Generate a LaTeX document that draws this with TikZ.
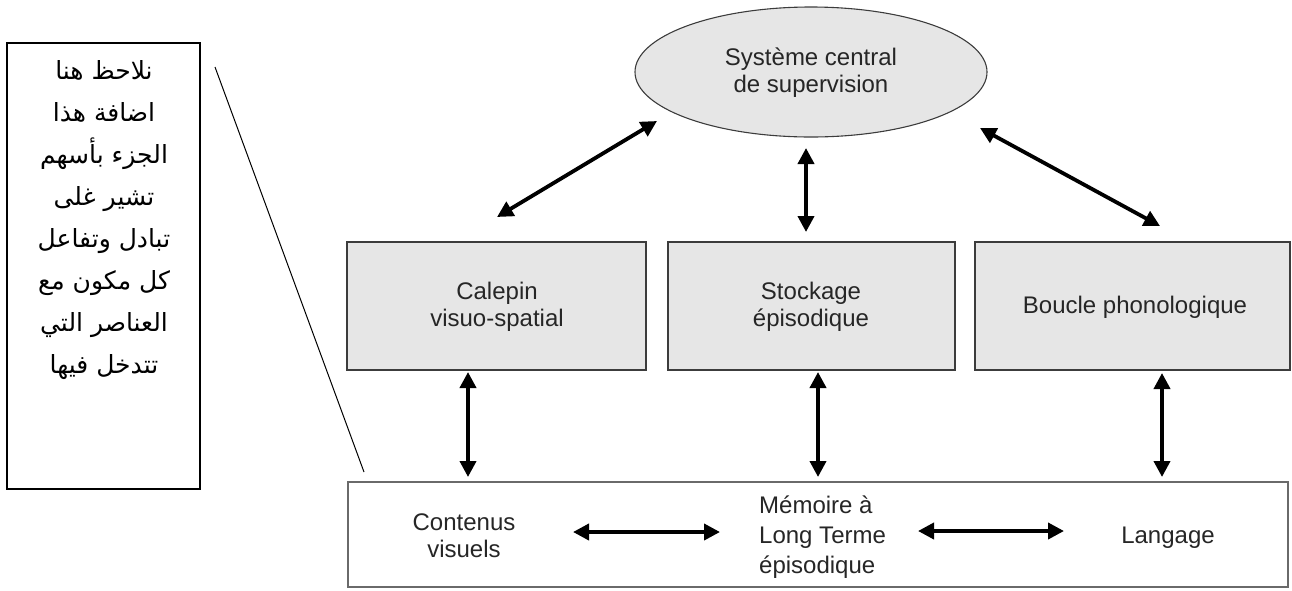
\documentclass[tikz,border=0pt]{standalone}
\usepackage{fontspec}
\setmainfont{Liberation Sans}
\newfontfamily\arabicfont[Script=Arabic]{DejaVu Sans}
\TeXXeTstate=1
\usetikzlibrary{shapes.geometric,arrows.meta}

\definecolor{boxfill}{HTML}{E6E6E6}
\definecolor{boxline}{HTML}{3C3C3C}
\definecolor{bandline}{HTML}{6A6A6A}

\tikzset{
  lbl/.style={font=\fontsize{24}{27}\selectfont, align=center, inner sep=0pt, text=black!85},
  component/.style={draw=boxline, line width=1.5pt, fill=boxfill, inner sep=0pt,
    minimum height=128pt},
  supervisor/.style={ellipse, draw=boxline, line width=1.1pt, fill=boxfill,
    minimum width=352pt, minimum height=130pt, inner sep=0pt},
  band/.style={draw=bandline, line width=2pt, fill=white, minimum width=940pt,
    minimum height=105pt, inner sep=0pt},
  link/.style={line width=3.8pt, {Triangle[length=16pt,width=16pt]}-{Triangle[length=16pt,width=16pt]}},
  notebox/.style={draw=black, line width=1.3pt, minimum width=193pt, minimum height=446pt, inner sep=0pt},
  notetext/.style={font=\arabicfont\fontsize{25}{42}\selectfont, align=center, inner sep=0pt}
}

\begin{document}
\begin{tikzpicture}[x=1pt,y=-1pt]
\useasboundingbox (0,0) rectangle (1292,590);

% central executive
\node[supervisor] (sup) at (811,72) {};
\node[lbl] (suptext) at (811,73) {Système central\\de supervision};

% three slave components
\node[component, minimum width=299pt] (vs) at (496.5,306) {};
\node[lbl] (vstext) at (497,307) {Calepin\\visuo-spatial};
\node[component, minimum width=287pt] (ep) at (811.5,306) {};
\node[lbl] (eptext) at (811,307) {Stockage\\épisodique};
\node[component, minimum width=315pt] (ph) at (1132.5,306) {};
\node[lbl] (phtext) at (1135,307) {Boucle phonologique};

% long-term memory band
\node[band] (ltm) at (818,534.5) {};
\node[lbl] (cv) at (464,536) {Contenus\\visuels};
\node[lbl, align=left, anchor=west, font=\fontsize{24}{30}\selectfont] (mlt) at (759,537) {Mémoire à\\Long Terme\\épisodique};
\node[lbl] (lang) at (1168,538) {Langage};

% note box
\node[notebox] (note) at (103.5,266) {};
\node[notetext, anchor=north] (notetxt) at (104,60) {%
\beginR نلاحظ هنا\endR\\
\beginR اضافة هذا\endR\\
\beginR الجزء بأسهم\endR\\
\beginR تشير غلى\endR\\
\beginR تبادل وتفاعل\endR\\
\beginR كل مكون مع\endR\\
\beginR العناصر التي\endR\\
\beginR تتدخل فيها\endR};

% arrow end points
\coordinate (s1) at (657,121);
\coordinate (v1) at (497,217);
\coordinate (s2) at (806,148);
\coordinate (e2) at (806,232);
\coordinate (s3) at (980,128);
\coordinate (p3) at (1160,226);
\coordinate (v4) at (468,372);
\coordinate (l4) at (468,477);
\coordinate (e5) at (818,372);
\coordinate (l5) at (818,477);
\coordinate (p6) at (1162,373);
\coordinate (l6) at (1162,477);
\coordinate (h1a) at (573,532);
\coordinate (h1b) at (720,532);
\coordinate (h2a) at (918,531);
\coordinate (h2b) at (1064,531);
\coordinate (n1) at (215,67);
\coordinate (n2) at (364,472);

\draw[link] (v1) -- (s1);
\draw[link] (e2) -- (s2);
\draw[link] (s3) -- (p3);
\draw[link] (v4) -- (l4);
\draw[link] (e5) -- (l5);
\draw[link] (p6) -- (l6);
\draw[link] (h1a) -- (h1b);
\draw[link] (h2a) -- (h2b);

% leader line from the note
\draw[black, line width=1pt] (n1) -- (n2);
\end{tikzpicture}
\end{document}
